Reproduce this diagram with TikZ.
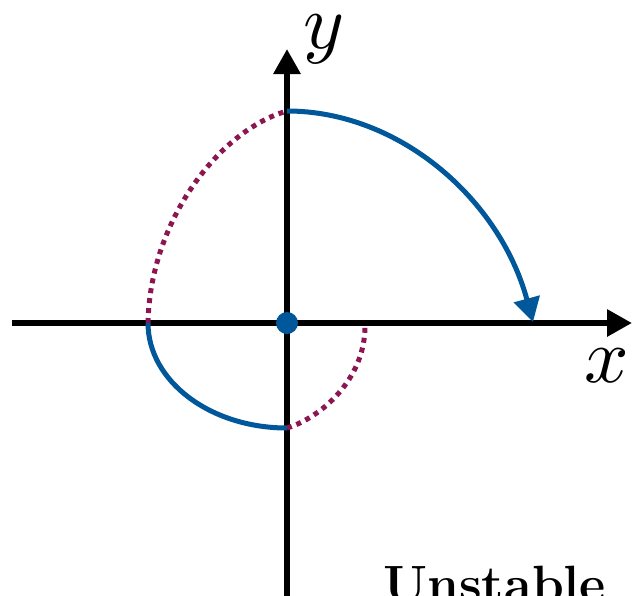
\documentclass[tikz,border=0pt]{standalone}
\usetikzlibrary{arrows.meta}
\definecolor{trajblue}{RGB}{0,87,154}
\definecolor{trajpurple}{RGB}{140,22,82}
\begin{document}
\begin{tikzpicture}[x=1pt,y=-1pt,
  axis/.style={line width=6pt, -{Triangle[length=25pt,width=26pt]}},
  solidtraj/.style={trajblue, line width=5pt},
  dottraj/.style={trajpurple, line width=5pt, dash pattern=on 5pt off 5pt},
  lbl/.style={inner sep=0pt, anchor=base west, scale=7.8}]
\useasboundingbox (0,0) rectangle (632,595);
\coordinate (O) at (287,323);
\coordinate (xl) at (12,323);
\coordinate (xr) at (632,323);
\coordinate (yb) at (287,600);
\coordinate (yt) at (287,49);
\draw[axis] (xl) -- (xr);
\draw[axis] (yb) -- (yt);
\coordinate (T) at (287,111);
\coordinate (R) at (533,322);
\coordinate (L) at (148,323);
\coordinate (B) at (287,428);
\coordinate (S) at (365,326);
\draw[dottraj] (L) .. controls (150,220) and (220,130) .. (T);
\draw[solidtraj, -{Triangle[length=24pt,width=26pt]}] (T) .. controls (400,111) and (500,200) .. (R);
\draw[solidtraj] (L) .. controls (148,381) and (210,428) .. (B);
\draw[dottraj] (B) .. controls (320,418) and (365,380) .. (S);
\fill[trajblue] (O) circle[radius=11pt];
\node[lbl] (ylab) at (302,48) {$y$};
\node[lbl] (xlab) at (583,382) {$x$};
\node[inner sep=0pt, anchor=base west, font=\fontsize{51}{60}\selectfont\bfseries] (st) at (383,601) {Unstable};
\end{tikzpicture}
\end{document}
